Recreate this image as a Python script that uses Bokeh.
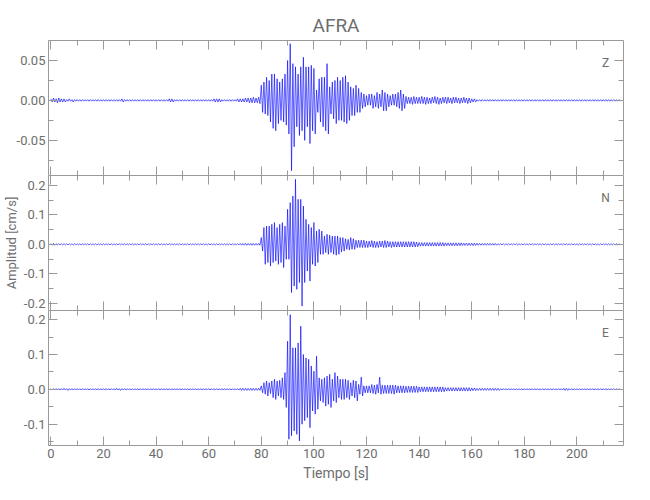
import numpy as np
from bokeh.plotting import figure
from bokeh.models import (Range1d, LinearAxis, SingleIntervalTicker,
                          NumeralTickFormatter, CustomJSTickFormatter, Label, Title)
from bokeh.layouts import column
from bokeh.embed import file_html
from bokeh.resources import INLINE

# ---------------------------------------------------------------------------
# Data: per-second maximum (hi) and minimum (lo) of
# each velocity component, in units of 1e-3 cm/s, for t = 0 .. 216 s.
# ---------------------------------------------------------------------------
DT = 1.0          # seconds between envelope samples
UNIT = 1e-3       # list values are in 1e-3 cm/s
STATION = "AFRA"
CHANNELS = ["Z", "N", "E"]

z_hi = [2, 3, 2, 3, 2, 2, 1, 2, 1, 1,
        1, 1, 1, 1, 1, 1, 1, 1, 1, 1,
        1, 1, 1, 1, 1, 1, 1, 2, 1, 1,
        1, 1, 1, 1, 1, 1, 1, 1, 1, 1,
        1, 1, 1, 1, 1, 2, 2, 1, 1, 1,
        1, 1, 1, 1, 1, 1, 1, 1, 1, 1,
        1, 1, 2, 2, 2, 1, 1, 1, 1, 1,
        1, 2, 2, 2, 3, 3, 3, 4, 3, 4,
        19, 23, 29, 25, 33, 33, 27, 23, 27, 33,
        50, 71, 46, 42, 33, 42, 54, 42, 42, 44,
        40, 13, 27, 29, 29, 46, 17, 23, 25, 29,
        25, 29, 31, 23, 17, 15, 19, 15, 10, 8,
        6, 8, 8, 6, 10, 8, 13, 10, 8, 6,
        8, 8, 10, 13, 8, 5, 4, 4, 5, 4,
        4, 5, 4, 4, 3, 4, 5, 4, 3, 4,
        4, 4, 3, 4, 4, 3, 3, 4, 3, 3,
        2, 2, 1, 1, 1, 1, 1, 1, 1, 1,
        1, 1, 1, 1, 1, 1, 1, 1, 1, 1,
        1, 1, 1, 1, 1, 1, 1, 1, 1, 1,
        1, 1, 1, 1, 1, 1, 1, 1, 1, 1,
        1, 1, 1, 1, 1, 1, 1, 1, 1, 1,
        1, 1, 1, 1, 1, 1, 1]
z_lo = [-2, -2, -3, -2, -2, -2, -1, -1, -2, -1,
        -1, -1, -1, -1, -1, -1, -1, -1, -1, -1,
        -1, -1, -1, -1, -1, -1, -1, -2, -1, -1,
        -1, -1, -1, -1, -1, -1, -1, -1, -1, -1,
        -1, -1, -1, -1, -1, -2, -2, -1, -1, -1,
        -1, -1, -1, -1, -1, -1, -1, -1, -1, -1,
        -1, -1, -2, -2, -2, -1, -1, -1, -1, -1,
        -1, -2, -2, -2, -2, -3, -3, -3, -3, -4,
        -15, -17, -19, -27, -35, -38, -29, -25, -27, -31,
        -42, -88, -58, -33, -44, -38, -50, -33, -54, -38,
        -42, -15, -27, -33, -38, -42, -17, -23, -29, -25,
        -25, -27, -29, -25, -19, -19, -15, -15, -10, -8,
        -6, -6, -10, -8, -10, -8, -13, -13, -8, -6,
        -6, -8, -10, -13, -10, -4, -4, -5, -4, -4,
        -4, -4, -5, -4, -4, -3, -4, -5, -4, -3,
        -4, -3, -4, -3, -3, -4, -3, -3, -4, -3,
        -2, -2, -1, -1, -1, -1, -1, -1, -1, -1,
        -1, -1, -1, -1, -1, -1, -1, -1, -1, -1,
        -1, -1, -1, -1, -1, -1, -1, -1, -1, -1,
        -1, -1, -1, -1, -1, -1, -1, -1, -1, -1,
        -1, -1, -1, -1, -1, -1, -1, -1, -1, -1,
        -1, -1, -1, -1, -1, -1, -1]

n_hi = [3, 3, 2, 2, 2, 2, 2, 2, 2, 2,
        2, 2, 2, 2, 2, 2, 2, 2, 2, 2,
        2, 2, 2, 2, 2, 2, 2, 2, 2, 2,
        2, 2, 2, 2, 2, 2, 2, 2, 2, 2,
        2, 2, 2, 2, 2, 2, 2, 2, 2, 2,
        2, 2, 2, 2, 2, 2, 2, 2, 2, 2,
        2, 2, 2, 2, 2, 2, 2, 2, 2, 2,
        2, 2, 3, 3, 3, 3, 3, 3, 3, 3,
        23, 57, 62, 62, 68, 74, 57, 68, 74, 62,
        119, 142, 164, 221, 153, 153, 130, 85, 68, 57,
        74, 45, 51, 45, 28, 34, 31, 28, 28, 28,
        23, 23, 19, 17, 23, 19, 14, 14, 14, 14,
        11, 11, 13, 11, 9, 11, 11, 13, 11, 9,
        9, 9, 9, 9, 9, 9, 9, 9, 9, 8,
        6, 6, 6, 6, 6, 6, 6, 6, 6, 6,
        5, 5, 5, 5, 5, 5, 5, 4, 4, 4,
        4, 4, 4, 3, 3, 3, 3, 3, 3, 3,
        2, 2, 2, 2, 2, 2, 2, 2, 2, 2,
        2, 2, 2, 2, 2, 2, 2, 2, 2, 2,
        2, 2, 2, 2, 2, 2, 2, 2, 2, 2,
        2, 2, 2, 2, 2, 2, 2, 2, 2, 2,
        2, 2, 2, 2, 2, 2, 2]
n_lo = [-3, -3, -2, -2, -2, -2, -2, -2, -2, -2,
        -2, -2, -2, -2, -2, -2, -2, -2, -2, -2,
        -2, -2, -2, -2, -2, -2, -2, -2, -2, -2,
        -2, -2, -2, -2, -2, -2, -2, -2, -2, -2,
        -2, -2, -2, -2, -2, -2, -2, -2, -2, -2,
        -2, -2, -2, -2, -2, -2, -2, -2, -2, -2,
        -2, -2, -2, -2, -2, -2, -2, -2, -2, -2,
        -2, -2, -3, -3, -3, -3, -3, -3, -3, -3,
        -23, -68, -62, -74, -62, -57, -68, -62, -79, -51,
        -51, -164, -142, -153, -130, -210, -130, -91, -125, -68,
        -74, -62, -34, -34, -28, -34, -28, -34, -37, -34,
        -26, -23, -17, -19, -17, -17, -11, -11, -11, -11,
        -11, -9, -11, -11, -11, -9, -11, -11, -9, -11,
        -9, -9, -9, -9, -9, -9, -9, -9, -9, -8,
        -6, -6, -6, -6, -6, -6, -6, -6, -6, -6,
        -5, -5, -5, -5, -5, -5, -4, -4, -4, -4,
        -4, -4, -3, -3, -3, -3, -3, -3, -3, -3,
        -2, -2, -2, -2, -2, -2, -2, -2, -2, -2,
        -2, -2, -2, -2, -2, -2, -2, -2, -2, -2,
        -2, -2, -2, -2, -2, -2, -2, -2, -2, -2,
        -2, -2, -2, -2, -2, -2, -2, -2, -2, -2,
        -2, -2, -2, -2, -2, -2, -2]

e_hi = [2, 2, 2, 2, 2, 3, 2, 2, 2, 2,
        2, 2, 2, 2, 2, 2, 2, 2, 2, 2,
        2, 2, 2, 2, 2, 3, 2, 2, 2, 2,
        2, 2, 2, 2, 2, 2, 2, 2, 2, 2,
        2, 2, 2, 2, 2, 2, 2, 2, 2, 2,
        2, 2, 2, 2, 2, 2, 2, 2, 2, 2,
        2, 2, 2, 2, 2, 2, 2, 2, 2, 2,
        2, 2, 3, 3, 3, 3, 3, 3, 3, 3,
        10, 19, 24, 19, 24, 29, 24, 26, 33, 48,
        138, 214, 119, 119, 133, 181, 100, 90, 86, 67,
        52, 95, 33, 29, 33, 38, 43, 29, 48, 38,
        29, 29, 29, 26, 19, 26, 24, 14, 35, 10,
        10, 10, 14, 12, 14, 35, 12, 12, 12, 12,
        12, 12, 10, 10, 10, 9, 9, 9, 9, 9,
        7, 7, 7, 7, 7, 7, 7, 7, 7, 7,
        5, 5, 5, 5, 5, 5, 5, 5, 5, 5,
        4, 4, 3, 3, 3, 3, 3, 3, 3, 3,
        3, 2, 2, 2, 2, 2, 2, 2, 2, 2,
        2, 2, 2, 2, 2, 2, 2, 2, 2, 2,
        2, 2, 2, 2, 2, 3, 3, 2, 2, 2,
        2, 2, 2, 2, 2, 2, 2, 2, 2, 2,
        2, 2, 2, 2, 2, 2, 2]
e_lo = [-2, -2, -2, -2, -2, -2, -3, -2, -2, -2,
        -2, -2, -2, -2, -2, -2, -2, -2, -2, -2,
        -2, -2, -2, -2, -2, -2, -3, -2, -2, -2,
        -2, -2, -2, -2, -2, -2, -2, -2, -2, -2,
        -2, -2, -2, -2, -2, -2, -2, -2, -2, -2,
        -2, -2, -2, -2, -2, -2, -2, -2, -2, -2,
        -2, -2, -2, -2, -2, -2, -2, -2, -2, -2,
        -2, -2, -3, -3, -3, -3, -3, -3, -3, -3,
        -10, -14, -19, -12, -24, -29, -19, -24, -29, -52,
        -143, -133, -119, -129, -148, -100, -90, -81, -110, -62,
        -71, -57, -33, -38, -48, -43, -52, -33, -38, -24,
        -29, -29, -24, -29, -19, -24, -33, -14, -19, -10,
        -10, -10, -12, -14, -10, -14, -12, -12, -12, -12,
        -14, -10, -10, -10, -10, -9, -9, -9, -9, -9,
        -7, -7, -7, -7, -7, -7, -7, -7, -7, -7,
        -5, -5, -5, -5, -5, -5, -5, -5, -5, -5,
        -4, -4, -3, -3, -3, -3, -3, -3, -3, -3,
        -3, -2, -2, -2, -2, -2, -2, -2, -2, -2,
        -2, -2, -2, -2, -2, -2, -2, -2, -2, -2,
        -2, -2, -2, -2, -2, -3, -3, -2, -2, -2,
        -2, -2, -2, -2, -2, -2, -2, -2, -2, -2,
        -2, -2, -2, -2, -2, -2, -2]

# ---------------------------------------------------------------------------
FONT = "Roboto"
TXT = "#6e6e6e"
AX = "#9a9a9a"
BLUE = "#0000ff"
W = 640
LEFT = 48
RIGHT = 17

x_range = Range1d(-0.9, 217.7)


def trace(hi, lo):
    hi = np.asarray(hi, float) * UNIT
    lo = np.asarray(lo, float) * UNIT
    t = np.arange(len(hi)) * DT
    xs = np.empty(2 * len(hi))
    ys = np.empty(2 * len(hi))
    xs[0::2] = t
    xs[1::2] = t + DT / 2
    ys[0::2] = hi
    ys[1::2] = lo
    return xs, ys


def style_axis(ax, labels):
    ax.axis_line_color = AX
    ax.major_tick_line_color = AX
    ax.minor_tick_line_color = AX
    ax.major_tick_in = 9
    ax.major_tick_out = 0
    ax.minor_tick_in = 5
    ax.minor_tick_out = 0
    if labels:
        ax.major_label_text_font = FONT
        ax.major_label_text_font_size = "13px"
        ax.major_label_text_color = TXT
        ax.major_label_standoff = 3
    else:
        ax.formatter = CustomJSTickFormatter(code="return ''")
        ax.major_label_text_font_size = "0px"
        ax.major_label_standoff = 0


def panel(hi, lo, yr, yint, yfmt, height, top, bottom, chan, xlabels):
    p = figure(width=W, height=height, x_range=x_range, y_range=Range1d(*yr),
               output_backend="svg", toolbar_location=None,
               x_axis_location=None, y_axis_location=None,
               min_border=0, min_border_left=LEFT, min_border_right=RIGHT,
               min_border_top=top, min_border_bottom=bottom)
    p.xgrid.visible = False
    p.ygrid.visible = False
    p.outline_line_color = None
    p.background_fill_color = "white"
    p.border_fill_color = "white"

    for loc in ("below", "above"):
        ax = LinearAxis(ticker=SingleIntervalTicker(interval=20, num_minor_ticks=2))
        style_axis(ax, xlabels and loc == "below")
        p.add_layout(ax, loc)
    for loc in ("left", "right"):
        ax = LinearAxis(ticker=SingleIntervalTicker(interval=yint, num_minor_ticks=2))
        style_axis(ax, loc == "left")
        if loc == "left":
            ax.formatter = NumeralTickFormatter(format=yfmt)
        p.add_layout(ax, loc)

    xs, ys = trace(hi, lo)
    p.line(xs, ys, line_color=BLUE, line_width=0.7, line_alpha=0.9)

    p.add_layout(Label(x=557, y=113, x_units="screen", y_units="screen",
                       text=chan, text_font=FONT, text_font_size="12px",
                       text_color=TXT, text_align="center",
                       text_baseline="middle"))
    return p


p1 = panel(z_hi, z_lo, (-0.094, 0.075), 0.05, "0.00", 175, 40, 0, CHANNELS[0], False)
p2 = panel(n_hi, n_lo, (-0.225, 0.234), 0.1, "0.0", 135, 0, 0, CHANNELS[1], False)
p3 = panel(e_hi, e_lo, (-0.161, 0.226), 0.1, "0.0", 182, 0, 47, CHANNELS[2], True)

xa = p3.below[0]
xa.axis_label = "Tiempo [s]"
xa.axis_label_text_font = FONT
xa.axis_label_text_font_size = "14px"
xa.axis_label_text_font_style = "normal"
xa.axis_label_text_color = TXT
xa.axis_label_standoff = 4

ya = p2.left[0]
ya.axis_label = "Amplitud [cm/s]"
ya.axis_label_text_font = FONT
ya.axis_label_text_font_size = "13px"
ya.axis_label_text_font_style = "normal"
ya.axis_label_text_color = TXT
ya.axis_label_standoff = 2

p1.title = Title(text=STATION, align="center", text_font=FONT,
                 text_font_size="19px", text_font_style="normal",
                 text_color=TXT, standoff=8)

layout = column(p1, p2, p3, spacing=0)
open("out.html", "w").write(file_html(layout, INLINE))
